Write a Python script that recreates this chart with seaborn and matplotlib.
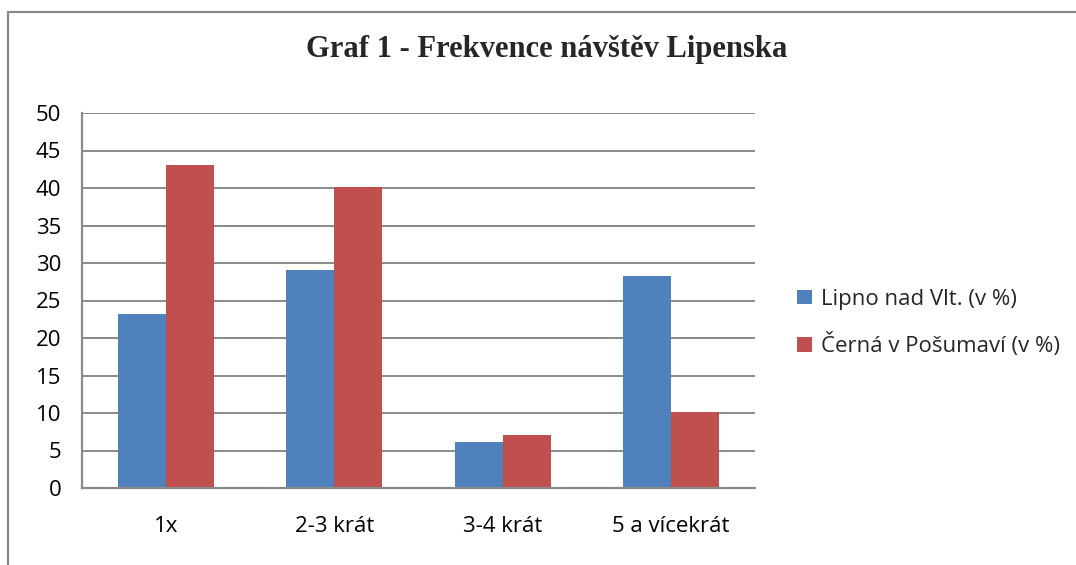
import matplotlib
matplotlib.use("Agg")
import matplotlib.pyplot as plt
import seaborn as sns
import pandas as pd
from matplotlib.lines import Line2D
from matplotlib.patches import Patch

categories = ["1x", "2-3 krát", "3-4 krát", "5 a vícekrát"]
lipno = [23.2, 29.1, 6.1, 28.3]
cerna = [43.1, 40.1, 7.1, 10.1]
series_names = ["Lipno nad Vlt. (v %)", "Černá v Pošumaví (v %)"]
colors = ["#4F81BD", "#C0504D"]
title = "Graf 1 - Frekvence návštěv Lipenska"

df = pd.DataFrame({
    "cat": categories * 2,
    "val": lipno + cerna,
    "series": [series_names[0]] * 4 + [series_names[1]] * 4,
})

sns.set_theme(style="white")
plt.rcParams["font.family"] = ["Open Sans", "DejaVu Sans"]

W, H = 1076, 565
fig = plt.figure(figsize=(W / 100, H / 100), dpi=100)
ax = fig.add_axes([82 / W, 1 - 488 / H, (755 - 82) / W, (488 - 113) / H])

sns.barplot(data=df, x="cat", y="val", hue="series", palette=colors,
            width=0.57, gap=0, ax=ax, legend=False, saturation=1,
            linewidth=0)

ax.set_ylim(0, 50)
ax.set_yticks(range(0, 51, 5))
ax.set_xlim(-0.5, 3.5)
ax.set_xlabel("")
ax.set_ylabel("")
ax.grid(axis="y", color="#8a8a8a", linewidth=1.4)
ax.set_axisbelow(True)
for s in ["top", "right"]:
    ax.spines[s].set_visible(False)
for s in ["left", "bottom"]:
    ax.spines[s].set_color("#8a8a8a")
    ax.spines[s].set_linewidth(1.6)
ax.tick_params(axis="y", length=0, pad=15, labelsize=16, colors="black")
ax.tick_params(axis="x", length=0, pad=20, labelsize=16, colors="black")

fig.text(547 / W, 1 - 50 / H, title, ha="center", va="center",
         fontsize=22, fontweight="bold", family=["Liberation Serif", "DejaVu Serif"])

handles = [Patch(facecolor=c, edgecolor="none") for c in colors]
fig.legend(handles, series_names, loc="center left",
           bbox_to_anchor=(786 / W, 1 - 323 / H), frameon=False,
           fontsize=16, handlelength=0.65, handleheight=0.65,
           handletextpad=0.42, labelspacing=1.05, borderpad=0)

# outer chart border (left and top visible)
fig.add_artist(Line2D([8 / W, 8 / W], [0, 1 - 12 / H], transform=fig.transFigure,
                      color="#8a8a8a", linewidth=1.6))
fig.add_artist(Line2D([8 / W, 1], [1 - 12 / H, 1 - 12 / H], transform=fig.transFigure,
                      color="#8a8a8a", linewidth=1.6))

fig.savefig("out.png", dpi=100, facecolor="white")
